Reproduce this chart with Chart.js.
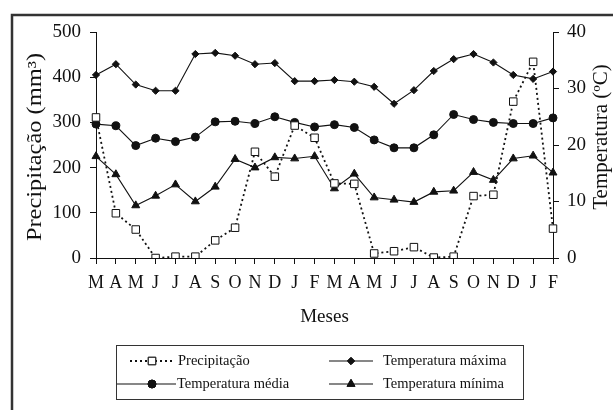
<!DOCTYPE html>
<html>
<head>
<meta charset="utf-8">
<script src="https://cdn.jsdelivr.net/npm/chart.js@4"></script>
<style>
  html, body { margin: 0; padding: 0; background: #fff; }
  #wrap { width: 613px; height: 410px; }
</style>
</head>
<body>
<div id="wrap"><canvas id="myChart" width="613" height="410"></canvas></div>
<script>
// months, Mar .. Feb over two years
const months = ['M','A','M','J','J','A','S','O','N','D','J','F','M','A','M','J','J','A','S','O','N','D','J','F'];

// mm, left axis
const precip = [311, 99, 63, 0, 3, 3, 39, 67, 235, 180, 293, 266, 165, 164, 10, 15, 24, 1, 3, 137, 140, 346, 434, 65];

// ºC, right axis
const tMax = [32.4, 34.3, 30.7, 29.6, 29.6, 36.1, 36.3, 35.8, 34.3, 34.5, 31.3, 31.3, 31.5, 31.2, 30.3, 27.3, 29.7, 33.1, 35.2, 36.1, 34.6, 32.4, 31.7, 33.0];
const tMed = [23.7, 23.4, 19.9, 21.2, 20.6, 21.4, 24.1, 24.2, 23.8, 25.0, 24.0, 23.2, 23.6, 23.1, 20.9, 19.5, 19.5, 21.8, 25.4, 24.5, 24.0, 23.8, 23.8, 24.8];
const tMin = [18.0, 14.8, 9.3, 11.0, 13.0, 10.0, 12.6, 17.5, 16.0, 17.8, 17.6, 18.0, 12.3, 14.9, 10.7, 10.3, 9.9, 11.7, 11.9, 15.2, 13.8, 17.6, 18.1, 15.1];

const precipTicks = [0, 100, 200, 300, 400, 500];
const tempTicks = [0, 10, 20, 30, 40];

const SERIF = "'Liberation Serif', 'Times New Roman', serif";
const INK = '#111';

// outer frame, y titles and the boxed legend
const extras = {
  id: 'extras',
  afterDraw(chart) {
    const c = chart.ctx;
    c.save();
    c.strokeStyle = '#333';
    c.lineWidth = 2.5;
    c.strokeRect(12, 15, 800, 600);

    c.fillStyle = INK;
    c.textAlign = 'center';
    c.textBaseline = 'middle';
    c.font = '20px ' + SERIF;
    // left title (stretched a bit, like the original)
    c.save();
    c.translate(36, 147);
    c.rotate(-Math.PI / 2);
    c.scale(1.22, 1);
    c.fillText('Precipitação (mm³)', 0, 0);
    c.restore();
    // right title, reads bottom to top too
    c.save();
    c.translate(602, 137);
    c.rotate(-Math.PI / 2);
    c.scale(1.05, 1);
    c.fillText('Temperatura (ºC)', 0, 0);
    c.restore();

    // legend
    c.lineWidth = 1;
    c.strokeStyle = '#333';
    c.strokeRect(116.5, 345.5, 407, 54);

    const items = [
      {x0: 130, x1: 175, mx: 152, y: 361, tx: 178, text: 'Precipitação', ds: 0},
      {x0: 329, x1: 373, mx: 351, y: 361, tx: 383, text: 'Temperatura máxima', ds: 1},
      {x0: 117, x1: 176, mx: 152, y: 384, tx: 177, text: 'Temperatura média', ds: 2},
      {x0: 329, x1: 373, mx: 351, y: 384, tx: 383, text: 'Temperatura mínima', ds: 3}
    ];
    items.forEach(it => {
      const ds = chart.data.datasets[it.ds];
      c.save();
      c.strokeStyle = INK;
      c.lineWidth = ds.borderWidth;
      c.setLineDash(ds.borderDash || []);
      c.beginPath();
      c.moveTo(it.x0, it.y);
      c.lineTo(it.x1, it.y);
      c.stroke();
      c.restore();
      Chart.helpers.drawPoint(c, {
        pointStyle: ds.pointStyle,
        radius: ds.pointRadius,
        borderWidth: 1
      }, it.mx, it.y);
      c.save();
      c.fillStyle = ds.pointBackgroundColor;
      c.strokeStyle = INK;
      c.lineWidth = 1;
      c.fill();
      c.stroke();
      c.restore();
      c.fillStyle = INK;
      c.textAlign = 'left';
      c.font = '14.5px ' + SERIF;
      c.fillText(it.text, it.tx, it.y);
    });
    c.restore();
  }
};

const data = {
  labels: months,
  datasets: [
    {
      label: 'Precipitação',
      data: precip,
      yAxisID: 'yP',
      borderColor: INK,
      borderWidth: 1.8,
      borderDash: [2, 3],
      pointStyle: 'rect',
      pointRadius: 5.3,
      pointBorderWidth: 1,
      pointBackgroundColor: '#fff',
      pointBorderColor: INK,
      tension: 0
    },
    {
      label: 'Temperatura máxima',
      data: tMax,
      yAxisID: 'yT',
      borderColor: INK,
      borderWidth: 1.1,
      pointStyle: 'rectRot',
      pointRadius: 3.6,
      pointBorderWidth: 1,
      pointBackgroundColor: INK,
      pointBorderColor: INK,
      tension: 0
    },
    {
      label: 'Temperatura média',
      data: tMed,
      yAxisID: 'yT',
      borderColor: INK,
      borderWidth: 1.1,
      pointStyle: 'circle',
      pointRadius: 4,
      pointBorderWidth: 1,
      pointBackgroundColor: INK,
      pointBorderColor: INK,
      tension: 0
    },
    {
      label: 'Temperatura mínima',
      data: tMin,
      yAxisID: 'yT',
      borderColor: INK,
      borderWidth: 1.1,
      pointStyle: 'triangle',
      pointRadius: 4.6,
      pointBorderWidth: 1,
      pointBackgroundColor: INK,
      pointBorderColor: INK,
      tension: 0
    }
  ]
};

const options = {
  responsive: false,
  animation: false,
  events: [],
  layout: {
    padding: {left: 0, right: 0, top: 32, bottom: 80}
  },
  plugins: {
    legend: {display: false},
    tooltip: {enabled: false}
  },
  scales: {
    x: {
      type: 'category',
      offset: false,
      afterFit: s => { s.height = 72; },
      border: {color: INK, width: 1},
      grid: {drawOnChartArea: false, drawTicks: true, tickLength: 6, tickColor: INK},
      ticks: {
        color: INK,
        padding: 8,
        autoSkip: false,
        maxRotation: 0,
        font: {family: SERIF, size: 18}
      },
      title: {
        display: true,
        text: 'Meses',
        color: INK,
        padding: {top: 0, bottom: 2},
        font: {family: SERIF, size: 19}
      }
    },
    yP: {
      position: 'left',
      min: 0,
      max: 500,
      afterFit: s => { s.width = 96; },
      afterBuildTicks: s => { s.ticks = precipTicks.map(v => ({value: v})); },
      border: {color: INK, width: 1},
      grid: {drawOnChartArea: false, tickLength: 6, tickColor: INK},
      ticks: {
        color: INK,
        padding: 9,
        font: {family: SERIF, size: 19}
      }
    },
    yT: {
      position: 'right',
      min: 0,
      max: 40,
      afterFit: s => { s.width = 60; },
      afterBuildTicks: s => { s.ticks = tempTicks.map(v => ({value: v})); },
      border: {color: INK, width: 1},
      grid: {drawOnChartArea: false, tickLength: 6, tickColor: INK},
      ticks: {
        color: INK,
        padding: 8,
        font: {family: SERIF, size: 19}
      }
    }
  }
};

const ctx = document.getElementById('myChart').getContext('2d');
const myChart = new Chart(ctx, {type: 'line', data: data, options: options, plugins: [extras]});
</script>
</body>
</html>
